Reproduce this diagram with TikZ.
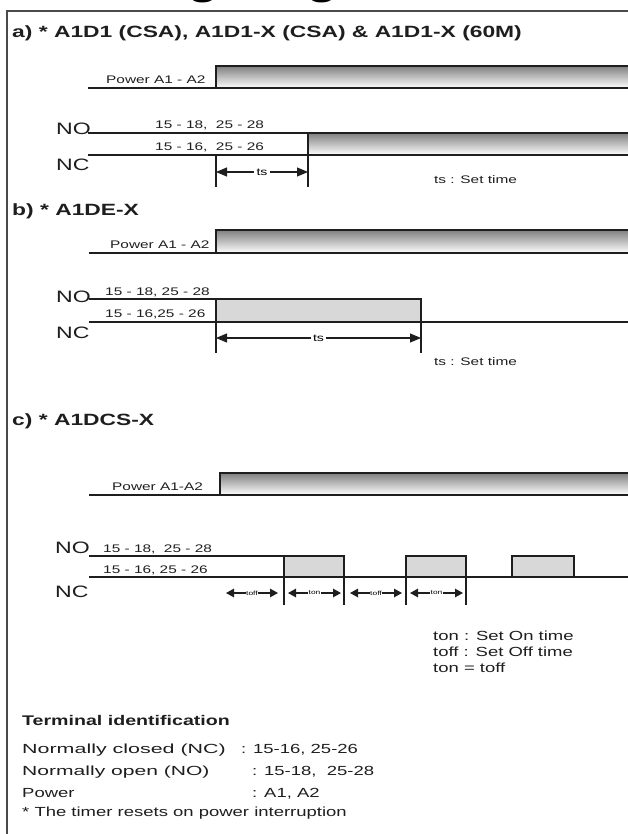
\documentclass[tikz,border=0pt]{standalone}
\usepackage{fontspec}
\setmainfont{Liberation Sans}[FakeStretch=1.4]
\usetikzlibrary{arrows.meta}
\definecolor{ink}{HTML}{1E1E1E}
\definecolor{shade}{HTML}{D8D8D8}
\definecolor{framec}{HTML}{4A4A4A}
\tikzset{
  wave/.style={line width=1.7pt, draw=ink, line cap=rect},
  pulse/.style={line width=1.8pt, draw=ink, fill=shade},
  marker/.style={line width=1.1pt, draw=ink},
  dimline/.style={line width=1.1pt, draw=ink, {Triangle[length=11pt,width=9pt]}-{Triangle[length=11pt,width=9pt]}},
  smalldim/.style={line width=1.3pt, draw=ink, {Triangle[length=8pt,width=8.5pt]}-{Triangle[length=8pt,width=8.5pt]}},
  dimlbl/.style={font=\fontsize{10}{11}\selectfont, fill=white, inner sep=2.5pt},
  tinylbl/.style={font=\fontsize{6}{7}\selectfont, fill=white, inner sep=0.6pt},
  lbl/.style={font=\fontsize{11}{12}\selectfont, inner sep=0pt, anchor=base west, text=ink},
  sig/.style={font=\fontsize{16.5}{18}\selectfont, inner sep=0pt, anchor=base west, text=ink},
  head/.style={font=\bfseries\fontsize{16.3}{19}\selectfont, inner sep=0pt, anchor=base west, text=ink},
  body/.style={font=\fontsize{13.2}{15}\selectfont, inner sep=0pt, anchor=base west, text=ink},
  bodyb/.style={font=\bfseries\fontsize{14}{16}\selectfont, inner sep=0pt, anchor=base west, text=ink},
}
\begin{document}
\begin{tikzpicture}[x=1pt,y=-1pt]
\useasboundingbox (0,0) rectangle (628,834);
\begin{scope}
\clip (0,0) rectangle (628,834);
% cut-off page title (only descenders visible)
\node[font=\bfseries\fontsize{35}{40}\selectfont, inner sep=0pt, anchor=base west] (pagetitle) at (58,-4) {Timing Diagram};
\end{scope}
% frame
\draw[framec, line width=1.5pt] (628,11) -- (7,11) -- (7,834);

% ---------------- a)
\node[head] (ta) at (12,38) {a) * A1D1 (CSA), A1D1-X (CSA) \& A1D1-X (60M)};
\fill[shade] (216,66) rectangle (628,88);
\draw[wave] (89,88) -- (628,88);
\draw[wave] (216,88) -- (216,66) -- (628,66);
\node[lbl] (pwa) at (106,84) {Power A1 - A2};

\fill[shade] (308,133) rectangle (628,155);
\draw[wave] (89,133) -- (628,133);
\draw[wave] (89,155) -- (628,155);
\coordinate (a1) at (216,155); \coordinate (a1b) at (216,187);
\coordinate (a2) at (308,133); \coordinate (a2b) at (308,187);
\draw[marker] (a1) -- (a1b);
\draw[marker] (a2) -- (a2b);
\draw[dimline] (216,172) -- node[dimlbl] (tsa) {ts} (308,172);
\node[sig] (noa) at (56,135) {NO};
\node[sig] (nca) at (56,171) {NC};
\node[lbl] (na1) at (155,129) {15 - 18,\ \ 25 - 28};
\node[lbl] (na2) at (155,151) {15 - 16,\ \ 25 - 26};
\node[lbl] (sta) at (434,184) {ts : Set time};

% ---------------- b)
\node[head] (tb) at (12,215) {b) * A1DE-X};
\fill[shade] (216,230) rectangle (628,253);
\draw[wave] (90,253) -- (628,253);
\draw[wave] (216,253) -- (216,230) -- (628,230);
\node[lbl] (pwb) at (110,248) {Power A1 - A2};

\draw[wave] (90,299) -- (216,299);
\draw[pulse] (216,299) rectangle (421,322);
\draw[wave] (90,322) -- (628,322);
\draw[marker] (216,322) -- (216,353);
\draw[marker] (421,322) -- (421,353);
\draw[dimline] (216,338) -- node[dimlbl] (tsb) {ts} (421,338);
\node[sig] (nob) at (56,302) {NO};
\node[sig] (ncb) at (56,338) {NC};
\node[lbl] (nb1) at (105,295) {15 - 18, 25 - 28};
\node[lbl] (nb2) at (105,317) {15 - 16,25 - 26};
\node[lbl] (stb) at (434,365) {ts : Set time};

% ---------------- c)
\node[head] (tc) at (12,425) {c) * A1DCS-X};
\fill[shade] (220,473) rectangle (628,495);
\draw[wave] (90,495) -- (628,495);
\draw[wave] (220,495) -- (220,473) -- (628,473);
\node[lbl] (pwc) at (112,490) {Power A1-A2};

\draw[wave] (90,556) -- (322,556);
\draw[wave] (90,577) -- (628,577);
\draw[pulse] (284,556) rectangle (344,577);
\draw[pulse] (406,556) rectangle (466,577);
\draw[pulse] (512,556) rectangle (574,577);
\foreach \xx in {284,344,406,466} \draw[marker] (\xx,577) -- (\xx,605);
\draw[smalldim] (226,593) -- node[tinylbl] (tf1) {toff} (278,593);
\draw[smalldim] (288,593) -- node[tinylbl] (tn1) {ton} (341,593);
\draw[smalldim] (350,593) -- node[tinylbl] (tf2) {toff} (402,593);
\draw[smalldim] (410,593) -- node[tinylbl] (tn2) {ton} (463,593);
\node[sig] (noc) at (55,553) {NO};
\node[sig] (ncc) at (55,597) {NC};
\node[lbl] (nc1) at (103,552) {15 - 18,\ \ 25 - 28};
\node[lbl] (nc2) at (103,573) {15 - 16, 25 - 26};

\node[body] (l1) at (433,640) {ton : Set On time};
\node[body] (l2) at (433,656) {toff : Set Off time};
\node[body] (l3) at (433,672) {ton = toff};

% ---------------- terminal identification
\node[bodyb] (tid) at (22,725) {Terminal identification};
\node[body] (r1) at (22,753) {\scalebox{1.16}[1]{Normally closed (NC)}};
\node[body] (r1v) at (241,753) {: 15-16, 25-26};
\node[body] (r2) at (22,775) {\scalebox{1.14}[1]{Normally open (NO)}};
\node[body] (r2v) at (252,775) {: 15-18,\ \ 25-28};
\node[body] (r3) at (22,797) {Power};
\node[body] (r3v) at (252,797) {: A1, A2};
\node[body] (r4) at (22,816) {* The timer resets on power interruption};
\end{tikzpicture}
\end{document}
